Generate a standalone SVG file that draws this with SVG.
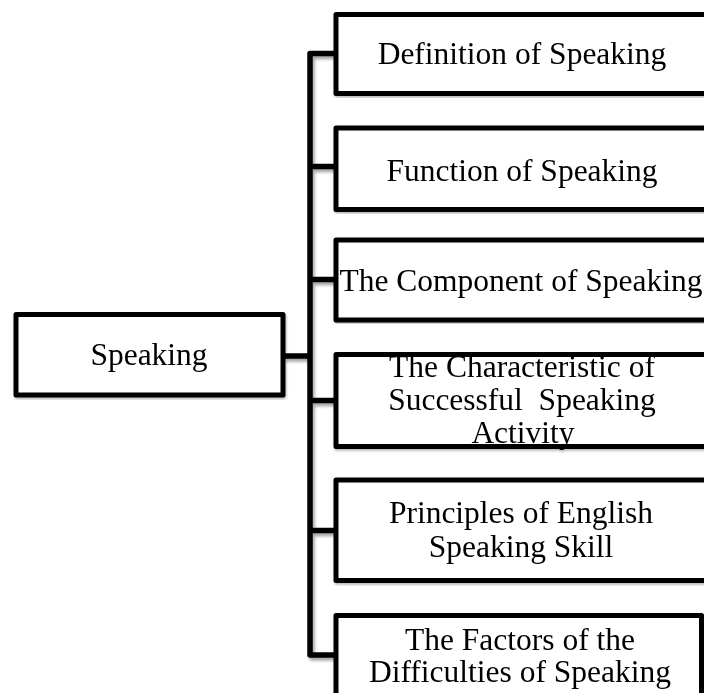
<svg xmlns="http://www.w3.org/2000/svg" width="704" height="693" viewBox="0 0 704 693">
<style>
.box{fill:#fff;stroke:#000;stroke-width:5;stroke-linejoin:round}
.conn{fill:none;stroke:#000;stroke-width:5.5;stroke-linejoin:round;stroke-linecap:butt}
.t{font-family:"Liberation Serif","Times New Roman",serif;font-size:31.5px;fill:#000;text-anchor:middle}
</style>
<defs>
<filter id="sh" x="-20%" y="-20%" width="140%" height="140%">
<feDropShadow dx="2" dy="3" stdDeviation="1.5" flood-color="#000" flood-opacity="0.35"/>
</filter>
<filter id="shb" x="-5%" y="-5%" width="110%" height="110%">
<feDropShadow dx="1" dy="2" stdDeviation="1" flood-color="#000" flood-opacity="0.25"/>
</filter>
</defs>
<rect width="704" height="693" fill="#fff"/>
<g id="connectors" filter="url(#sh)">
<path class="conn" d="M283 356 H310"/>
<path class="conn" d="M336 53.5 H310 V655 H336"/>
<path class="conn" d="M310 166.5 H336"/>
<path class="conn" d="M310 279.5 H336"/>
<path class="conn" d="M310 400.5 H336"/>
<path class="conn" d="M310 530.5 H336"/>
</g>
<g id="speaking" filter="url(#shb)">
<rect class="box" x="16" y="314.5" width="267" height="80.5"/>
<text class="t" x="149" y="365">Speaking</text>
</g>
<g id="definition" filter="url(#shb)">
<rect class="box" x="336" y="14.5" width="374" height="79"/>
<text class="t" x="522" y="64">Definition of Speaking</text>
</g>
<g id="function" filter="url(#shb)">
<rect class="box" x="336" y="128" width="374" height="81.5"/>
<text class="t" x="522" y="181">Function of Speaking</text>
</g>
<g id="component" filter="url(#shb)">
<rect class="box" x="336" y="240" width="374" height="80"/>
<text class="t" x="521" y="291">The Component of Speaking</text>
</g>
<g id="characteristic" filter="url(#shb)">
<rect class="box" x="336" y="354.5" width="374" height="92"/>
<text class="t" x="522" y="377">The Characteristic of</text>
<text class="t" x="522" y="410" xml:space="preserve">Successful  Speaking</text>
<text class="t" x="523" y="443">Activity</text>
</g>
<g id="principles" filter="url(#shb)">
<rect class="box" x="336" y="480" width="374" height="100.5"/>
<text class="t" x="521" y="523">Principles of English</text>
<text class="t" x="521" y="557">Speaking Skill</text>
</g>
<g id="factors" filter="url(#shb)">
<rect class="box" x="336" y="615.5" width="365.5" height="90"/>
<text class="t" x="520" y="650">The Factors of the</text>
<text class="t" x="520" y="682">Difficulties of Speaking</text>
</g>
</svg>
